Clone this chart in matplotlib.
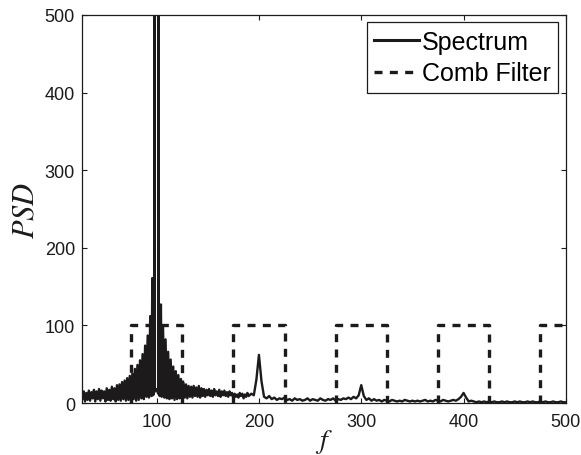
import numpy as np
import matplotlib
matplotlib.use('Agg')
import matplotlib.pyplot as plt

# power spectrum, left flank: samples every 1.25 Hz from 25 Hz
psd_left = [
    3, 14, 5, 15, 2, 13, 4, 16, 3, 14,
    6, 17, 2, 15, 5, 18, 3, 16, 6, 15,
    2, 19, 4, 17, 3, 21, 5, 19, 2, 23,
    4, 24, 3, 27, 5, 29, 3, 32, 4, 35,
    2, 38, 5, 44, 3, 49, 4, 55, 6, 63,
    5, 74, 8, 87, 7, 112,
]
f_left_start = 25.0
f_left_step = 1.25

# main lobe around 100 Hz (the two tall lines are off the scale)
f_main = [95.0, 95.8, 96.6, 97.6, 97.9, 98.2, 100.0,
          101.5, 101.8, 102.1, 103.0, 104.2, 105.0]
psd_main = [9, 161, 10, 14, 3000, 15, 18,
            12, 3000, 14, 9, 127, 8]

# right flank: samples every 1.25 Hz from 106.25 Hz
psd_right = [
    99, 7, 82, 6, 66, 5, 56, 6, 47, 4,
    41, 5, 36, 6, 31, 5, 26, 7, 24, 6,
    22, 8, 21, 7, 22, 9, 20, 8, 22, 7,
    19, 9, 18, 8, 17, 10, 18, 9, 16, 8,
    18, 10, 15, 9, 17, 8, 15, 10, 16, 9,
    14, 8, 15, 10, 13, 6, 12, 8, 11, 7,
    13, 9, 12, 6, 11, 8, 13,
]
f_right_start = 106.25
f_right_step = 1.25

# tail: samples every 2.5 Hz from 190 Hz
psd_tail = [
    9, 12, 10, 30, 62, 28, 8, 6, 9, 5,
    7, 4, 6, 5, 7, 4, 5, 3, 6, 4,
    5, 3, 4, 6, 3, 5, 4, 3, 6, 4,
    3, 5, 4, 6, 3, 5, 4, 6, 5, 7,
    5, 8, 6, 10, 23, 9, 4, 6, 3, 5,
    3, 4, 2, 4, 3, 2, 4, 3, 2, 3,
    2, 4, 3, 2, 3, 2, 3, 2, 3, 4,
    2, 3, 2, 4, 3, 2, 4, 3, 2, 3,
    4, 3, 5, 8, 13, 7, 2, 3, 2, 1,
    2, 1, 2, 1, 2, 1, 2, 1, 1, 2,
    1, 2, 1, 1, 2, 1, 2, 1, 1, 2,
    1, 2, 1, 1, 2, 1, 2, 1, 1, 2,
    1, 1, 2, 1, 1,
]
f_tail_start = 190.0
f_tail_step = 2.5

# comb filter pass bands
comb_centers = [100, 200, 300, 400, 500]
comb_halfwidth = 25
comb_height = 100

x_ticks = [100, 200, 300, 400, 500]
y_ticks = [0, 100, 200, 300, 400, 500]

f_left = f_left_start + f_left_step * np.arange(len(psd_left))
f_right = f_right_start + f_right_step * np.arange(len(psd_right))
f_tail = f_tail_start + f_tail_step * np.arange(len(psd_tail))
freq = np.concatenate([f_left, f_main, f_right, f_tail])
psd = np.concatenate([psd_left, psd_main, psd_right, psd_tail])

comb_x, comb_y = [], []
for c in comb_centers:
    lo, hi = c - comb_halfwidth, c + comb_halfwidth
    comb_x += [lo, lo, hi, hi, np.nan]
    comb_y += [0, comb_height, comb_height, 0, np.nan]

ink = '#1c1a1a'
plt.rcParams['font.family'] = ['Liberation Sans', 'DejaVu Sans']
plt.rcParams['mathtext.fontset'] = 'stix'

fig = plt.figure(figsize=(5.81, 4.56), dpi=100)
ax = fig.add_axes([0.141, 0.114, 0.833, 0.851])

ax.plot(freq, psd, color=ink, lw=1.7, label='Spectrum')
ax.plot(comb_x, comb_y, color=ink, lw=2.4, dashes=(2.4, 2.2),
        label='Comb Filter')

ax.set_xlim(27, 500)
ax.set_ylim(0, 500)
ax.set_xticks(x_ticks)
ax.set_yticks(y_ticks)
ax.tick_params(direction='in', top=True, right=True, length=3.6,
               width=0.8, labelsize=13, colors=ink)
ax.tick_params(axis='x', pad=7)
ax.tick_params(axis='y', pad=5)
for s in ax.spines.values():
    s.set_linewidth(0.9)
    s.set_color(ink)

ax.set_xlabel('$f$', fontsize=20, color=ink, labelpad=-2)
ax.set_ylabel('$PSD$', fontsize=22, color=ink, labelpad=3)

leg = ax.legend(loc='upper right', fontsize=18, frameon=True, fancybox=False,
                edgecolor=ink, framealpha=1, borderaxespad=0.3,
                borderpad=0.3, labelspacing=0.3, handlelength=1.8,
                handletextpad=0.12)
leg.get_frame().set_linewidth(0.9)
leg.get_lines()[0].set_linewidth(2.2)

fig.savefig('out.png', dpi=100)
